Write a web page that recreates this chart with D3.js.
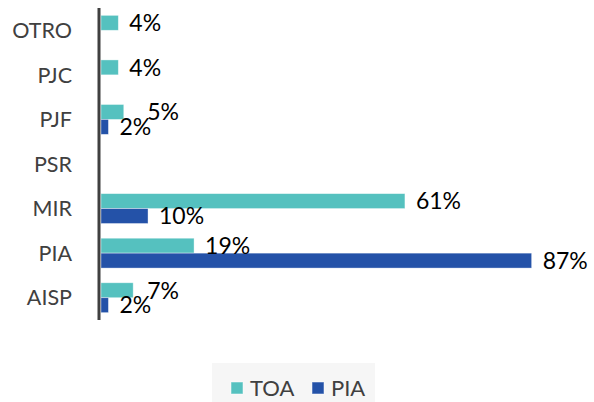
<!DOCTYPE html>
<html>
<head>
<meta charset="utf-8">
<script src="https://cdn.jsdelivr.net/npm/d3@7"></script>
<style>
  html, body { margin: 0; padding: 0; background: #fff; }
  svg { display: block; font-family: Lato, "Open Sans", sans-serif; }
</style>
</head>
<body>
<svg id="chart" width="594" height="402"></svg>
<script>
// Categories (top to bottom)
const categories = ["OTRO", "PJC", "PJF", "PSR", "MIR", "PIA", "AISP"];
// Series values in percent (null = no bar)
const toaValues = [3.5, 3.5, 4.6, null, 61.4, 18.8, 6.5];
const piaValues = [null, null, 1.5, null, 9.5, 87, 1.5];
const seriesNames = ["TOA", "PIA"];
const seriesColors = ["#55C1BF", "#2452A8"];

const svg = d3.select("#chart");
const axisX = 99;

const x = d3.scaleLinear().domain([0, 100]).range([axisX + 2, axisX + 2 + 495]);
const y = d3.scaleBand().domain(categories).range([8, 320]).paddingInner(0.33).paddingOuter(0.165);
const sub = d3.scaleBand().domain(seriesNames).range([0, y.bandwidth()]);

const rows = [];
categories.forEach((c, i) => {
  [toaValues[i], piaValues[i]].forEach((v, s) => {
    if (v !== null) rows.push({ cat: c, series: seriesNames[s], value: v, color: seriesColors[s] });
  });
});

// bars
svg.append("g").selectAll("rect").data(rows).join("rect")
  .attr("x", x(0))
  .attr("y", d => y(d.cat) + sub(d.series))
  .attr("width", d => x(d.value) - x(0))
  .attr("height", sub.bandwidth())
  .attr("fill", d => d.color)
  .attr("stroke", "#ffffff")
  .attr("stroke-opacity", 0.5)
  .attr("stroke-width", 0.75);

// data labels
const labels = svg.append("g").selectAll("text").data(rows).join("text")
  .attr("x", d => x(d.value) + 11)
  .attr("y", d => y(d.cat) + sub(d.series) + sub.bandwidth() / 2)
  .attr("dy", "0.36em")
  .attr("font-size", 23)
  .attr("fill", "#000")
  .text(d => Math.round(d.value) + "%");

// simple collision avoidance: push a TOA label right of an overlapping PIA label
labels.each(function (d) {
  if (d.series !== "TOA") return;
  const other = labels.filter(o => o.cat === d.cat && o.series === "PIA");
  if (other.empty()) return;
  const ob = other.node().getBBox();
  const mb = this.getBBox();
  const hOverlap = mb.x < ob.x + ob.width && mb.x + mb.width > ob.x;
  if (hOverlap) d3.select(this).attr("x", ob.x + ob.width - 4);
});

// category axis
const yAxis = d3.axisLeft(y).tickSize(0).tickPadding(27);
const gAxis = svg.append("g").attr("transform", `translate(${axisX},0)`).call(yAxis);
gAxis.select(".domain").attr("stroke", "#404040").attr("stroke-width", 3)
  .attr("d", `M0,${y.range()[0]}V${y.range()[1]}`);
gAxis.selectAll(".tick text").attr("font-size", 21.5).attr("fill", "#404040")
  .attr("font-family", "Lato, 'Open Sans', sans-serif").attr("dy", "0.36em");

// legend
const leg = svg.append("g");
leg.append("rect").attr("x", 212).attr("y", 363).attr("width", 163).attr("height", 39).attr("fill", "#f6f6f6");
const legX = [231, 312];
seriesNames.forEach((n, i) => {
  leg.append("rect").attr("x", legX[i]).attr("y", 382).attr("width", 12).attr("height", 12)
    .attr("fill", seriesColors[i]).attr("stroke", "#fff").attr("stroke-opacity", 0.5);
  leg.append("text").attr("x", legX[i] + 19).attr("y", 388).attr("dy", "0.36em")
    .attr("font-size", 22).attr("fill", "#404040").text(n);
});
</script>
</body>
</html>
